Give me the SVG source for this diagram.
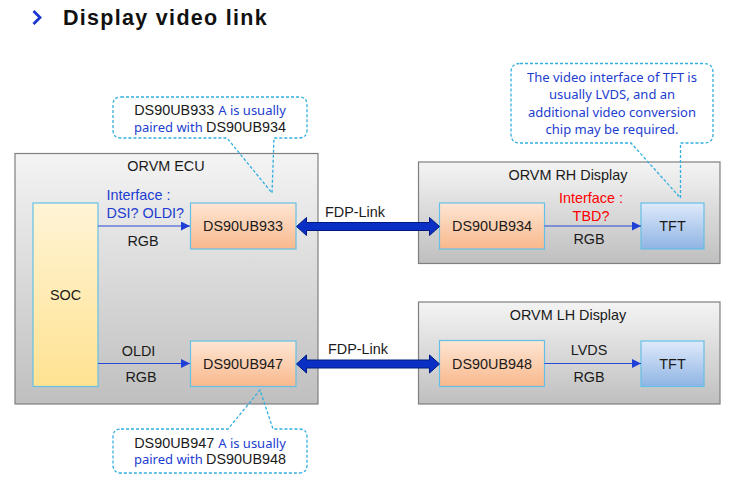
<svg xmlns="http://www.w3.org/2000/svg" width="733" height="480" viewBox="0 0 733 480">
<defs>
<linearGradient id="gGray" x1="0" y1="0" x2="0" y2="1"><stop offset="0" stop-color="#f4f4f4"/><stop offset="1" stop-color="#bfbfbf"/></linearGradient>
<linearGradient id="gOrange" x1="0" y1="0" x2="0" y2="1"><stop offset="0" stop-color="#fde6d4"/><stop offset="1" stop-color="#f9b88c"/></linearGradient>
<linearGradient id="gBlue" x1="0" y1="0" x2="0" y2="1"><stop offset="0" stop-color="#dfeafb"/><stop offset="1" stop-color="#8fb4e3"/></linearGradient>
<linearGradient id="gYellow" x1="0" y1="0" x2="0" y2="1"><stop offset="0" stop-color="#fff4d6"/><stop offset="1" stop-color="#ffe291"/></linearGradient>
<marker id="ah" viewBox="0 0 10 10" refX="10" refY="5" markerWidth="9" markerHeight="9" markerUnits="userSpaceOnUse" orient="auto"><path d="M0,0 L10,5 L0,10 Z" fill="#1f3fd6"/></marker>
</defs>
<style>
.t{font-family:"Liberation Sans",Arial,sans-serif;font-size:14.4px;fill:#1a1a1a}
.c{text-anchor:middle}
.bl{fill:#1c3dd0}
.red{fill:#ff0000}
.nb{font-family:"Noto Sans",sans-serif;font-size:13px;fill:#1c3dd0}
.grp{stroke:#7f7f7f;stroke-width:1.2}
.node{stroke:#64c0e6;stroke-width:1.2}
.call{fill:none;stroke:#33aee0;stroke-width:1.3;stroke-dasharray:3 2}
.thin{stroke:#2a4ad8;stroke-width:1.2;fill:none}
.fdp{fill:#0a2fc4;stroke:#001a80;stroke-width:1}
</style>
<rect width="733" height="480" fill="#ffffff"/>

<g id="title">
<path d="M33.5,11 L40,17.5 L33.5,24" fill="none" stroke="#1a35d0" stroke-width="2.8"/>
<text x="63" y="25" font-family="Liberation Sans,Arial,sans-serif" font-size="21.5" font-weight="bold" letter-spacing="1.3" fill="#111111">Display video link</text>
</g>

<g id="orvm-ecu">
<rect x="15" y="153.5" width="303" height="250.5" fill="url(#gGray)" class="grp"/>
<text class="t c" x="166" y="171">ORVM ECU</text>
</g>
<g id="orvm-rh">
<rect x="418.5" y="162" width="301.5" height="101.5" fill="url(#gGray)" class="grp"/>
<text class="t c" x="568" y="179.5">ORVM RH Display</text>
</g>
<g id="orvm-lh">
<rect x="418.5" y="302" width="301.5" height="102" fill="url(#gGray)" class="grp"/>
<text class="t c" x="568" y="320">ORVM LH Display</text>
</g>

<g id="soc">
<rect x="33" y="203" width="65" height="183.5" fill="url(#gYellow)" class="node"/>
<text class="t c" x="65.5" y="300">SOC</text>
</g>
<g id="ds90ub933">
<rect x="190.5" y="203" width="105.5" height="46" fill="url(#gOrange)" class="node"/>
<text class="t c" x="243" y="231">DS90UB933</text>
</g>
<g id="ds90ub947">
<rect x="190.5" y="341" width="105.5" height="45.5" fill="url(#gOrange)" class="node"/>
<text class="t c" x="243" y="369">DS90UB947</text>
</g>
<g id="ds90ub934">
<rect x="439.5" y="203" width="105" height="46" fill="url(#gOrange)" class="node"/>
<text class="t c" x="492" y="231">DS90UB934</text>
</g>
<g id="tft-rh">
<rect x="641" y="203" width="63" height="46" fill="url(#gBlue)" class="node"/>
<text class="t c" x="672.5" y="231">TFT</text>
</g>
<g id="ds90ub948">
<rect x="439.5" y="340.5" width="105" height="46" fill="url(#gOrange)" class="node"/>
<text class="t c" x="492" y="368.5">DS90UB948</text>
</g>
<g id="tft-lh">
<rect x="641" y="341" width="63" height="45.5" fill="url(#gBlue)" class="node"/>
<text class="t c" x="672.5" y="368.5">TFT</text>
</g>

<g id="connectors">
<line class="thin" x1="98" y1="226" x2="190" y2="226" marker-end="url(#ah)"/>
<line class="thin" x1="98" y1="363.5" x2="190" y2="363.5" marker-end="url(#ah)"/>
<line class="thin" x1="544.5" y1="226" x2="641" y2="226" marker-end="url(#ah)"/>
<line class="thin" x1="544.5" y1="363.5" x2="641" y2="363.5" marker-end="url(#ah)"/>
<path class="fdp" d="M296.5,226.5 L306.5,217.5 L306.5,222.5 L429.5,222.5 L429.5,217.5 L439.5,226.5 L429.5,235.5 L429.5,230.5 L306.5,230.5 L306.5,235.5 Z"/>
<path class="fdp" d="M296.5,364 L306.5,355 L306.5,360 L429.5,360 L429.5,355 L439.5,364 L429.5,373 L429.5,368 L306.5,368 L306.5,373 Z"/>
<text class="t bl" x="106.5" y="200">Interface :</text>
<text class="t bl" x="106.5" y="217.5">DSI? OLDI?</text>
<text class="t c" x="143" y="245.5">RGB</text>
<text class="t c" x="138.5" y="356">OLDI</text>
<text class="t c" x="141" y="381.5">RGB</text>
<text class="t" x="325" y="216.5">FDP-Link</text>
<text class="t" x="328" y="354">FDP-Link</text>
<text class="t c red" x="591" y="203">Interface :</text>
<text class="t c red" x="591" y="220.5">TBD?</text>
<text class="t c" x="589" y="243.5">RGB</text>
<text class="t c" x="589" y="355">LVDS</text>
<text class="t c" x="589" y="382">RGB</text>
</g>

<g id="callout-933">
<path class="call" d="M121,97 L299,97 Q307,97 307,105 L307,130 Q307,138 299,138 L274,138 L272,193 L227,138 L121,138 Q113,138 113,130 L113,105 Q113,97 121,97 Z"/>
<text class="c" x="210" y="115"><tspan class="t">DS90UB933 </tspan><tspan class="nb">A is usually</tspan></text>
<text class="c" x="210" y="131.5"><tspan class="nb">paired with </tspan><tspan class="t">DS90UB934</tspan></text>
</g>
<g id="callout-947">
<path class="call" d="M121,429 L228,429 L260,390 L273,429 L299,429 Q307,429 307,437 L307,465 Q307,473 299,473 L121,473 Q113,473 113,465 L113,437 Q113,429 121,429 Z"/>
<text class="c" x="210" y="447.5"><tspan class="t">DS90UB947 </tspan><tspan class="nb">A is usually</tspan></text>
<text class="c" x="210" y="464"><tspan class="nb">paired with </tspan><tspan class="t">DS90UB948</tspan></text>
</g>
<g id="callout-tft">
<path class="call" d="M520,63.5 L704,63.5 Q713,63.5 713,72.5 L713,134 Q713,143 704,143 L680.5,143 L680.5,198 L631,143 L520,143 Q511,143 511,134 L511,72.5 Q511,63.5 520,63.5 Z"/>
<text class="nb c" x="612" y="81.5">The video interface of TFT is</text>
<text class="nb c" x="612" y="99">usually LVDS, and an</text>
<text class="nb c" x="612" y="116.5">additional video conversion</text>
<text class="nb c" x="612" y="133.5">chip may be required.</text>
</g>
</svg>
